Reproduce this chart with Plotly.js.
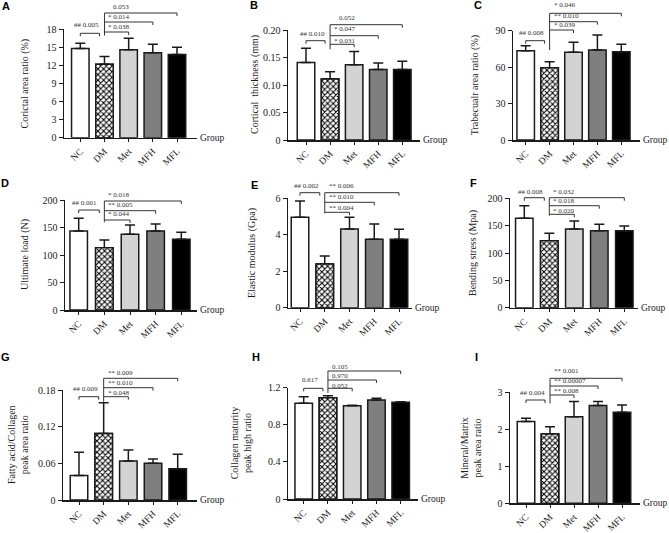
<!DOCTYPE html>
<html><head><meta charset="utf-8">
<script src="https://cdn.plot.ly/plotly-3.0.1.min.js"></script>
<style>html,body{margin:0;padding:0;background:#fff}#chart{width:669px;height:533px}</style>
</head><body><div id="chart"></div>
<script>
// ---------------- data ----------------
const groups = ['NC', 'DM', 'Met', 'MFH', 'MFL'];

const corticalAreaRatio = [14.8, 12.2, 14.6, 14.1, 13.8];
const corticalAreaRatioErr = [0.9, 1.3, 1.9, 1.4, 1.2];
const corticalThickness = [0.141, 0.111, 0.137, 0.128, 0.128];
const corticalThicknessErr = [0.026, 0.013, 0.024, 0.012, 0.015];
const trabecularAreaRatio = [73.5, 59.5, 72.2, 74.1, 72.7];
const trabecularAreaRatioErr = [4.2, 5.0, 8.2, 12.3, 6.1];
const ultimateLoad = [143.6, 113.3, 137.6, 143.6, 128.5];
const ultimateLoadErr = [23.1, 14.0, 16.9, 12.8, 12.7];
const elasticModulus = [4.96, 2.40, 4.32, 3.75, 3.75];
const elasticModulusErr = [0.89, 0.44, 0.64, 0.84, 0.55];
const bendingStress = [163.4, 122.6, 143.9, 140.9, 140.9];
const bendingStressErr = [23.2, 13.4, 14.6, 11.5, 8.5];
const fattyAcidCollagen = [0.040, 0.109, 0.064, 0.060, 0.051];
const fattyAcidCollagenErr = [0.038, 0.050, 0.018, 0.007, 0.024];
const collagenMaturity = [1.031, 1.092, 1.006, 1.067, 1.042];
const collagenMaturityErr = [0.072, 0.022, 0.004, 0.018, 0.007];
const mineralMatrix = [2.21, 1.87, 2.34, 2.64, 2.46];
const mineralMatrixErr = [0.09, 0.20, 0.41, 0.11, 0.20];

// significance labels: [NC vs DM], [DM vs Met, DM vs MFH, DM vs MFL]
const hashLabels = ['## 0.005', '## 0.010', '## 0.008', '## 0.001', '## 0.002', '## 0.008', '## 0.009', '0.617', '## 0.004'];
const sigLabels = [
  ['* 0.038', '* 0.014', '0.053'],
  ['* 0.031', '* 0.047', '0.052'],
  ['* 0.039', '** 0.010', '* 0.046'],
  ['* 0.044', '** 0.005', '* 0.018'],
  ['** 0.004', '** 0.010', '** 0.006'],
  ['* 0.020', '* 0.018', '* 0.032'],
  ['* 0.048', '** 0.010', '** 0.009'],
  ['0.052', '0.970', '0.105'],
  ['** 0.008', '** 0.00007', '** 0.001']
];

const panelLetters = ['A', 'B', 'C', 'D', 'E', 'F', 'G', 'H', 'I'];
const yTitles = [
  'Corictal area ratio (%)', 'Cortical  thickness (mm)', 'Trabecualr area ratio (%)',
  'Ultimate load (N)', 'Elastic modulus (Gpa)', 'Bending stress (Mpa)',
  'Fatty acid/Collagen<br>peak area ratio', 'Collagen maturity<br>peak high ratio', 'Mineral/Matrix<br>peak area ratio'
];
const yTickVals = [
  [0, 3, 6, 9, 12, 15, 18], [0, 0.05, 0.10, 0.15, 0.20], [0, 30, 60, 90],
  [0, 50, 100, 150, 200], [0, 2, 4, 6], [0, 50, 100, 150, 200],
  [0, 0.06, 0.12, 0.18], [0, 0.4, 0.8, 1.2], [0, 1, 2, 3]
];
const yTickText = [
  ['0', '3', '6', '9', '12', '15', '18'], ['0', '0.05', '0.10', '0.15', '0.20'], ['0', '30', '60', '90'],
  ['0', '50', '100', '150', '200'], ['0', '2', '4', '6'], ['0', '50', '100', '150', '200'],
  ['0', '0.06', '0.12', '0.18'], ['0', '0.4', '0.8', '1.2'], ['0', '1', '2', '3']
];
const seriesValues = [corticalAreaRatio, corticalThickness, trabecularAreaRatio, ultimateLoad, elasticModulus, bendingStress, fattyAcidCollagen, collagenMaturity, mineralMatrix];
const seriesErrors = [corticalAreaRatioErr, corticalThicknessErr, trabecularAreaRatioErr, ultimateLoadErr, elasticModulusErr, bendingStressErr, fattyAcidCollagenErr, collagenMaturityErr, mineralMatrixErr];

// ---------------- styling / layout geometry (pixels) ----------------
const barColors = ['#ffffff', '#ffffff', '#d3d3d3', '#7f7f7f', '#000000'];
const geom = [
  {axL:64, c0:80.3, c4:177, axR:197, zero:137.7, top:29.3, titleX:25, lx:6, ly:6, lines:[32,22,13], texts:[26.7,16.7,6.7], hashLine:33.3, hashText:25, dmBottom:35.5, padNoStar:true},
  {axL:288, c0:306, c4:402.3, axR:420, zero:140, top:30, titleX:255, lx:254, ly:5, lines:[44.3,35.7,24.7], texts:[40.7,29.3,18.3], hashLine:40.7, hashText:34, dmBottom:49.3, padNoStar:true},
  {axL:513, c0:525.7, c4:621.3, axR:640, zero:140, top:30.7, titleX:475, lx:478, ly:5, lines:[30,21.7,13.3], texts:[25,15.7,5], hashLine:40.7, hashText:33.3, dmBottom:50},
  {axL:65, c0:78.7, c4:181.3, axR:197, zero:310, top:200, titleX:25, lx:5, ly:183, lines:[220,210.7,201], texts:[214.3,205.3,195], hashLine:210, hashText:203.3, dmBottom:222.3},
  {axL:288, c0:300, c4:399, axR:412, zero:307.7, top:198.3, titleX:252, lx:254, ly:185, lines:[212.3,202.3,192.7], texts:[207.7,196.7,185.7], hashLine:192.7, hashText:185.7, dmBottom:213.3},
  {axL:510, c0:524.3, c4:624.3, axR:638, zero:307.7, top:198.3, titleX:473, lx:473, ly:183, lines:[214.3,205.7,197.7], texts:[210.7,200.7,192.3], hashLine:197.7, hashText:192.3, dmBottom:215.7},
  {axL:63, c0:79, c4:177.7, axR:197, zero:500, top:390, titleX:18, lx:5, ly:357, lines:[396.7,387.7,378.3], texts:[392.7,383.3,372.7], hashLine:396.7, hashText:389.3, dmBottom:401.7},
  {axL:288, c0:303.7, c4:400.7, axR:418, zero:499, top:387.7, titleX:241, lx:256, ly:357, lines:[388.3,380,371], texts:[385.7,375.7,366.7], hashLine:388.3, hashText:380, dmBottom:393},
  {axL:510, c0:526, c4:622, axR:640, zero:503.3, top:392.3, titleX:471, lx:477, ly:357, lines:[395,386,378.3], texts:[391,381,370.7], hashLine:400, hashText:392.7, dmBottom:403.3}
];

const W = 669, H = 533;
const SERIF = '"Liberation Serif", "Times New Roman", serif';
const SANS = '"Liberation Sans", Arial, sans-serif';
const INK = '#1a1a1a';
const px = x => x / W;
const py = y => 1 - y / H;

const traces = [];
const layout = {
  width: W, height: H,
  margin: {l: 0, r: 0, t: 0, b: 0},
  paper_bgcolor: '#fff', plot_bgcolor: 'rgba(0,0,0,0)',
  showlegend: false, barmode: 'overlay',
  font: {family: SERIF, size: 10, color: INK},
  shapes: [], annotations: []
};

for (let i = 0; i < 9; i++) {
  const g = geom[i];
  const suf = i === 0 ? '' : String(i + 1);
  const step = (g.c4 - g.c0) / 4;
  const yMax = yTickVals[i][yTickVals[i].length - 1];
  const xr = 'x' + suf;
  const bw = 17.5 / step;

  traces.push({
    type: 'bar', x: groups, y: seriesValues[i],
    xaxis: 'x' + suf, yaxis: 'y' + suf,
    width: bw,
    marker: {color: barColors, line: {color: INK, width: 1.5}},
    error_y: {type: 'data', symmetric: false, array: seriesErrors[i], arrayminus: seriesErrors[i].map(() => 0),
              color: INK, thickness: 1.5, width: 5},
    hoverinfo: 'skip'
  });
  // checkered fill for the DM group, drawn over its bar
  traces.push({
    type: 'bar', x: [groups[1]], y: [seriesValues[i][1]],
    xaxis: 'x' + suf, yaxis: 'y' + suf,
    width: bw,
    marker: {color: '#ffffff', line: {color: INK, width: 1.5},
             pattern: {shape: 'x', fillmode: 'replace', fgcolor: '#000000', bgcolor: '#ffffff', size: 4, solidity: 0.45}},
    hoverinfo: 'skip'
  });

  layout['xaxis' + suf] = {
    domain: [px(g.axL), px(g.axR)],
    range: [(g.axL - g.c0) / step, (g.axR - g.c0) / step],
    anchor: 'y' + suf, type: 'category', categoryorder: 'array', categoryarray: groups,
    showline: true, linecolor: INK, linewidth: 1.5,
    ticks: 'outside', ticklen: 3, tickwidth: 1, tickcolor: INK,
    tickangle: -45, tickfont: {family: SERIF, size: 9.5, color: INK},
    showgrid: false, zeroline: false, fixedrange: true
  };
  layout['yaxis' + suf] = {
    domain: [py(g.zero), py(g.top)],
    range: [0, yMax], anchor: 'x' + suf,
    tickvals: yTickVals[i], ticktext: yTickText[i],
    showline: true, linecolor: INK, linewidth: 1.5,
    ticks: 'outside', ticklen: 4, tickwidth: 1, tickcolor: INK,
    tickfont: {family: SERIF, size: 10, color: INK},
    showgrid: false, zeroline: false, fixedrange: true
  };

  const line = (x0, y0, x1, y1) => layout.shapes.push({
    type: 'line', xref: xr, yref: 'paper', x0, x1, y0: py(y0), y1: py(y1),
    line: {color: '#333', width: 1}
  });
  const drop = 3;
  const hr = 1 - 5 / step;
  line(0, g.hashLine + drop, 0, g.hashLine);
  line(0, g.hashLine, hr, g.hashLine);
  line(hr, g.hashLine, hr, g.hashLine + drop);
  line(1, g.dmBottom, 1, Math.min(...g.lines));
  for (let k = 0; k < 3; k++) {
    line(1, g.lines[k], 2 + k, g.lines[k]);
    line(2 + k, g.lines[k], 2 + k, g.lines[k] + drop);
  }

  const ann = (o) => layout.annotations.push(Object.assign({showarrow: false}, o));
  ann({xref: xr, yref: 'paper', x: 6 / step, y: py(g.hashText), xanchor: 'center', yanchor: 'middle',
       text: hashLabels[i], font: {family: SERIF, size: 7, color: '#333'}});
  for (let k = 0; k < 3; k++) {
    const lab = sigLabels[i][k];
    const extra = (g.padNoStar && lab.indexOf('*') < 0) ? 5 : 0;
    ann({xref: xr, yref: 'paper', x: 1 + (2 + extra) / step, y: py(g.texts[k]), xanchor: 'left', yanchor: 'middle',
         text: lab, font: {family: SERIF, size: 7, color: '#333'}});
  }
  ann({xref: 'paper', yref: 'paper', x: px(g.titleX), y: py((g.zero + g.top) / 2), xanchor: 'center', yanchor: 'middle',
       textangle: -90, text: yTitles[i], font: {family: SERIF, size: 10, color: INK}});
  ann({xref: 'paper', yref: 'paper', x: px(g.axR + 1), y: py(g.zero), xanchor: 'left', yanchor: 'middle',
       text: 'Group', font: {family: SERIF, size: 9.5, color: INK}});
  ann({xref: 'paper', yref: 'paper', x: px(g.lx), y: py(g.ly), xanchor: 'center', yanchor: 'middle',
       text: '<b>' + panelLetters[i] + '</b>', font: {family: SANS, size: 11, color: '#000'}});
}

Plotly.newPlot('chart', traces, layout, {displayModeBar: false, staticPlot: true});
</script>
</body></html>
